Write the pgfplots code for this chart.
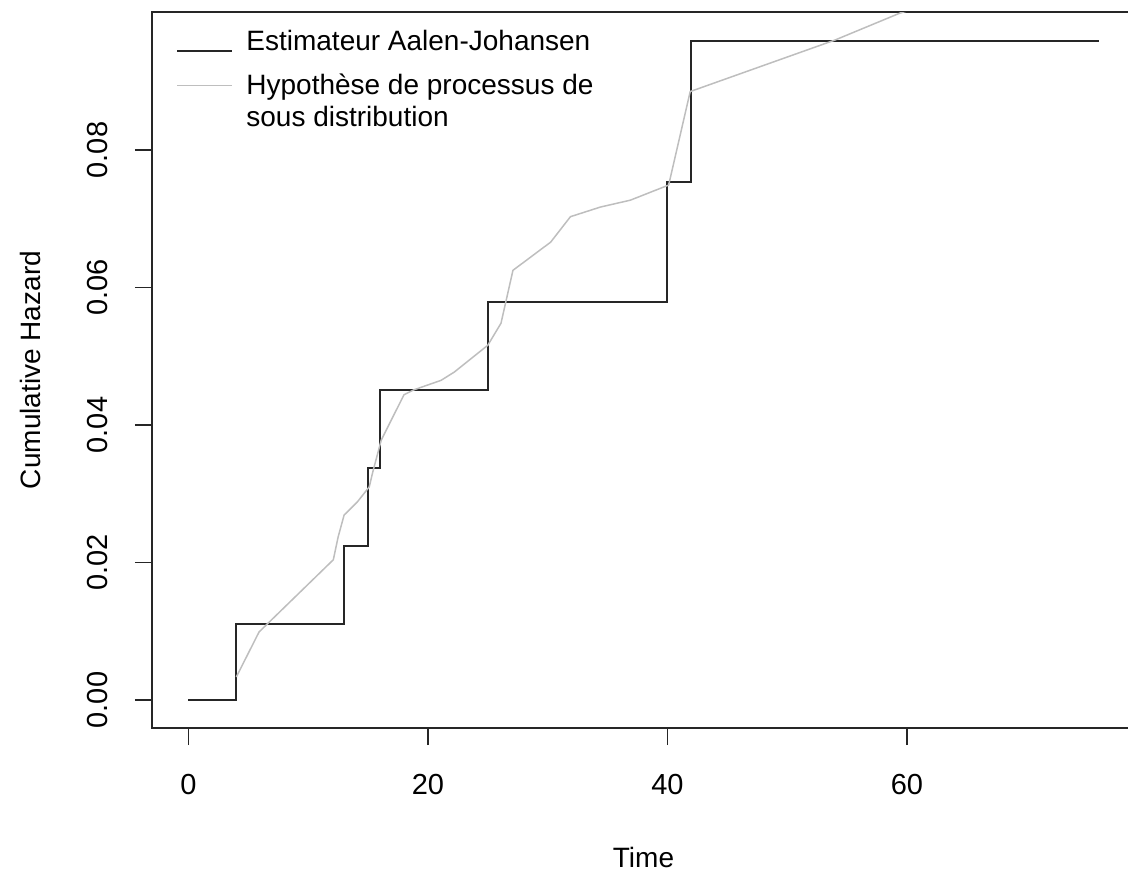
\documentclass[border=0pt]{standalone}
\usepackage{pgfplots}
\pgfplotsset{compat=1.18}
\usepackage{fontspec}
\setmainfont{Liberation Sans}
\definecolor{rgray}{HTML}{BEBEBE}
\pgfplotsset{
  legA/.style={legend image code/.code={\draw[##1] (0pt,-4.5pt) -- (27.5pt,-4.5pt); \path (32pt,0pt);}},
  legB/.style={legend image code/.code={\draw[##1] (0pt,8pt) -- (27.5pt,8pt); \path (32pt,0pt);}},
}
\begin{document}
\begin{tikzpicture}
\begin{axis}[
  scale only axis,
  width=491.5pt, height=358pt,
  xmin=-3.04, xmax=79.04,
  ymin=-0.00407, ymax=0.10007,
  axis line style={line width=0.9pt, black!85},
  xtick={0,20,40,60},
  ytick={0,0.02,0.04,0.06,0.08},
  xtick pos=bottom, ytick pos=left,
  tick align=outside,
  major tick length=8.5pt,
  tick style={line width=0.9pt, black!85},
  /pgf/number format/assume math mode=true,
  yticklabel={\pgfmathprintnumber[fixed,fixed zerofill,precision=2]{\tick}},
  xticklabel style={font=\fontsize{14.5}{16}\selectfont},
  yticklabel style={font=\fontsize{14.5}{16}\selectfont, rotate=90, anchor=south},
  xticklabel shift=11pt,
  yticklabel shift=10pt,
  scaled y ticks=false,
  xlabel={Time}, ylabel={Cumulative Hazard},
  xlabel style={font=\fontsize{14}{16}\selectfont, at={(axis description cs:0.5,0)}, anchor=center, yshift=-64.5pt},
  ylabel style={font=\fontsize{14}{16}\selectfont, at={(axis description cs:0,0.5)}, anchor=center, yshift=61pt},
  legend cell align=left,
  legend style={draw=none, fill=none, at={(0,1)}, anchor=north west, xshift=9pt, yshift=-5pt,
    font=\fontsize{14}{16}\selectfont, nodes={align=left}, row sep=6pt},
]
\addplot[const plot, black!85, line width=1pt, legA] coordinates {
(0,0) (4,0.01105) (13,0.0224) (15,0.03375) (16,0.0451) (25,0.0579) (40,0.07535) (42,0.0959) (76,0.0959)
};
\addlegendentry{Estimateur Aalen-Johansen}
\addplot[rgray, line width=0.75pt, legB] coordinates {
(4,0.00335) (5.9,0.0099) (7.2,0.0121) (12.1,0.0204) (12.5,0.0237) (13.0,0.0269) (14.1,0.0288) (15.1,0.031) (15.4,0.0332) (16.1,0.0378) (18.0,0.0444) (18.8,0.0451) (21.1,0.0465) (22.2,0.0477) (25.0,0.0516) (26.1,0.0548) (27.1,0.0625) (30.25,0.0666) (31.9,0.0703) (34.4,0.0717) (36.9,0.0727) (40.1,0.0749) (41.9,0.0885) (54.0,0.096) (59.4,0.0999) (76,0.1089)
};
\addlegendentry{Hypothèse de processus de\\sous distribution}
\end{axis}
\pgfresetboundingbox
\path[use as bounding box] ([xshift=-76pt,yshift=-71pt]current axis.south west) rectangle ([xshift=-3.5pt,yshift=6pt]current axis.north east);
\end{tikzpicture}
\end{document}
